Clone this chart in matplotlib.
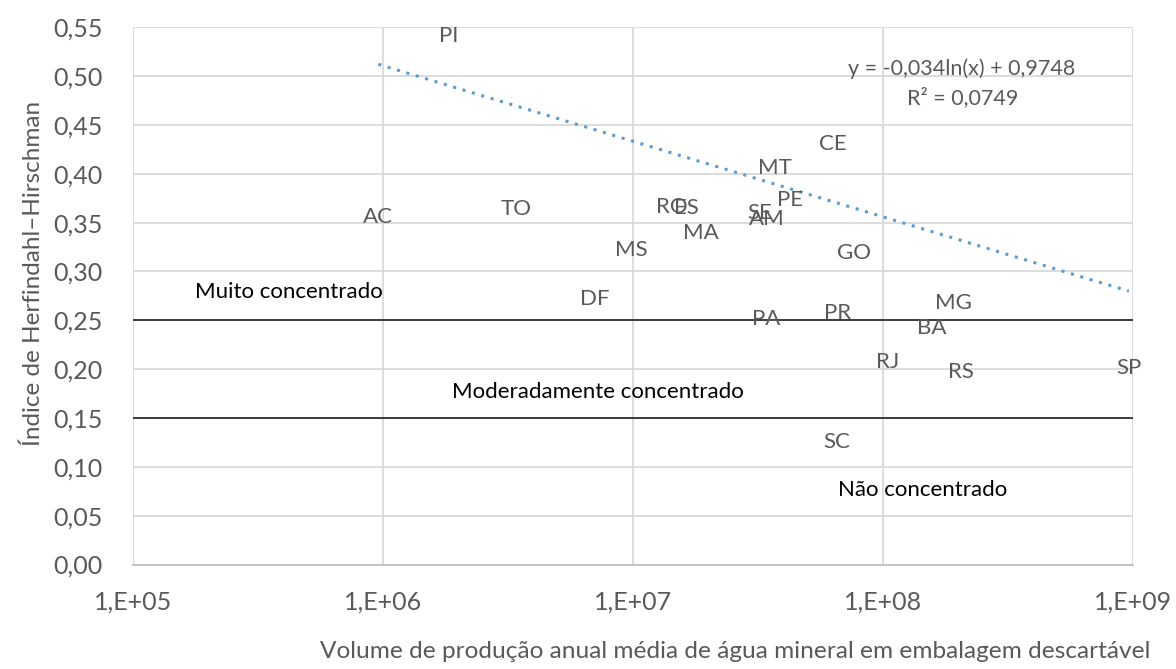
import numpy as np
import matplotlib
matplotlib.use("Agg")
import matplotlib.pyplot as plt
from matplotlib.ticker import NullLocator

# ---- data ----
states = ['PI', 'AC', 'TO', 'RO', 'ES', 'SE', 'AM', 'MA', 'MS', 'GO', 'DF',
          'CE', 'MT', 'PE', 'PA', 'PR', 'SC', 'MG', 'BA', 'RJ', 'RS', 'SP']
volume = [1.82e6, 9.55e5, 3.39e6, 1.42e7, 1.63e7, 3.21e7, 3.41e7, 1.87e7, 9.86e6, 7.66e7, 7.03e6,
          6.31e7, 3.69e7, 4.24e7, 3.40e7, 6.58e7, 6.52e7, 1.90e8, 1.56e8, 1.04e8, 2.05e8, 9.6e8]
hhi = [0.541, 0.3555, 0.3637, 0.3663, 0.3653, 0.3596, 0.3537, 0.3391, 0.322, 0.3187, 0.2722,
       0.4305, 0.4063, 0.3732, 0.2511, 0.2572, 0.1258, 0.2674, 0.2419, 0.207, 0.1973, 0.2015]

# logarithmic trendline as displayed (y = a ln(x) + b)
trend_slope = -0.0336
trend_intercept = 0.9748

thresholds = [0.25, 0.15]
zone_labels = ['Muito concentrado', 'Moderadamente concentrado', 'Não concentrado']
zone_x = [4.2e5, 7.2e6, 1.43e8]
zone_y = [0.279, 0.177, 0.076]

x_ticks = [1e5, 1e6, 1e7, 1e8, 1e9]
x_tick_labels = ['1,E+05', '1,E+06', '1,E+07', '1,E+08', '1,E+09']
y_ticks = [0.00, 0.05, 0.10, 0.15, 0.20, 0.25, 0.30, 0.35, 0.40, 0.45, 0.50, 0.55]
y_tick_labels = ['0,00', '0,05', '0,10', '0,15', '0,20', '0,25', '0,30', '0,35', '0,40', '0,45', '0,50', '0,55']

eq_text = 'y = -0,034ln(x) + 0,9748'
r2_text = 'R² = 0,0749'

# ---- plot ----
plt.rcParams['font.family'] = ['Lato', 'DejaVu Sans']
W, H = 1176, 669
fig = plt.figure(figsize=(W / 100, H / 100), dpi=100)
ax = fig.add_axes([133.3 / W, 1 - 564.5 / H, 1000 / W, (564.5 - 27.3) / H])

ax.set_xscale('log')
ax.set_xlim(1e5, 1e9)
ax.set_ylim(0, 0.55)
ax.set_xticks(x_ticks)
ax.set_xticklabels(x_tick_labels)
ax.xaxis.set_minor_locator(NullLocator())
ax.set_yticks(y_ticks)
ax.set_yticklabels(y_tick_labels)
ax.tick_params(length=0, labelsize=18, labelcolor='#595959')
ax.tick_params(axis='y', pad=22)
ax.tick_params(axis='x', pad=19)
ax.grid(True, color='#d9d9d9', lw=1.3)
ax.set_axisbelow(True)
for s in ['top', 'right', 'left']:
    ax.spines[s].set_visible(False)
ax.spines['bottom'].set_color('#bfbfbf')
ax.spines['bottom'].set_linewidth(1.3)

# threshold lines
for t in thresholds:
    ax.plot([1e5, 1e9], [t, t], color='#303030', lw=1.3, zorder=2)

# trendline over the data range
xs = np.logspace(np.log10(min(volume)), np.log10(max(volume)), 200)
ax.plot(xs, trend_slope * np.log(xs) + trend_intercept, color='#5B9BD5', lw=2.2,
        linestyle=(0, (1, 2.2)), zorder=3)

# point labels
for s, x, y in zip(states, volume, hhi):
    ax.text(x, y, s, ha='center', va='center', fontsize=16, color='#595959', zorder=4)

for lab, x, y in zip(zone_labels, zone_x, zone_y):
    ax.text(x, y, lab, ha='center', va='center', fontsize=16, color='black', zorder=4)

ax.text(962 / W, 1 - 68.3 / H, eq_text, transform=fig.transFigure, ha='center', va='center',
        fontsize=15.5, color='#595959')
ax.text(963 / W, 1 - 97.3 / H, r2_text, transform=fig.transFigure, ha='center', va='center',
        fontsize=15.5, color='#595959')

fig.text(33 / W, 1 - 273 / H, 'Índice de Herfindahl–Hirschman', rotation=90, ha='center',
         va='center', fontsize=17.5, color='#595959')
fig.text(735 / W, 1 - 652 / H,
         'Volume de produção anual média de água mineral em embalagem descartável',
         ha='center', va='center', fontsize=17.6, color='#595959')

fig.savefig('out.png', dpi=100)
